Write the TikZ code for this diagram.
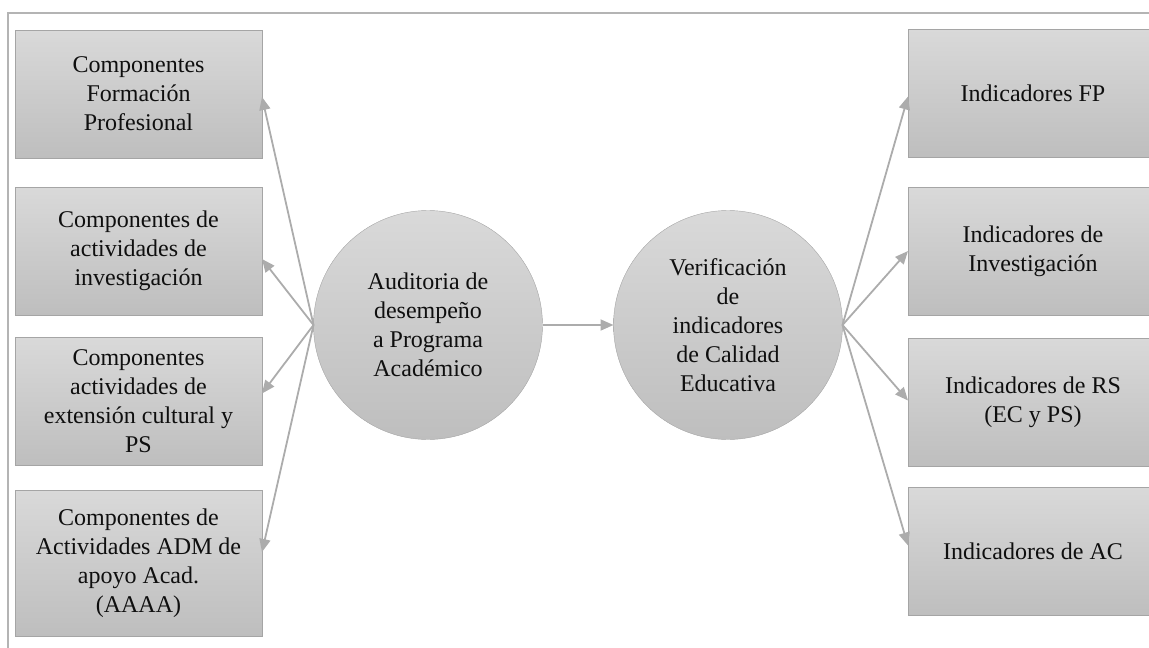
\documentclass[tikz,border=0pt]{standalone}
\usepackage{fontspec}
\setmainfont{Liberation Serif}
\usetikzlibrary{arrows.meta}

\definecolor{boxtop}{RGB}{217,217,217}
\definecolor{boxbot}{RGB}{190,190,190}
\definecolor{boxline}{RGB}{165,165,165}
\definecolor{arrowgray}{RGB}{172,172,172}
\definecolor{framegray}{RGB}{180,180,180}
\definecolor{textgray}{RGB}{15,15,15}

\begin{document}
\begin{tikzpicture}[x=1pt,y=-1pt,
    box/.style={draw=boxline, top color=boxtop, bottom color=boxbot,
      minimum width=247pt, minimum height=128pt, inner sep=0pt, outer sep=0pt,
      align=center, text=textgray, font=\fontsize{24}{29}\selectfont},
    indbox/.style={box, minimum width=270pt, text width=250pt,
      text depth=0pt},
    proc/.style={circle, draw=boxline, top color=boxtop, bottom color=boxbot,
      minimum size=229pt, inner sep=0pt, outer sep=0pt,
      align=center, text=textgray, font=\fontsize{24}{29}\selectfont},
    conn/.style={draw=arrowgray, line width=1.8pt,
      -{Triangle[length=13pt,width=11pt]}}]
    \useasboundingbox (0,0) rectangle (1149,648);
    % frame
    \draw[framegray, line width=2.5pt] (8,648) -- (8,13) -- (1149,13);

    % left column
    \node[box] (cFP)  at (138.5,94)  {Componentes\\Formación\\Profesional};
    \node[box] (cInv) at (138.5,251) {Componentes de\\actividades de\\investigación};
    \node[box] (cExt) at (138.5,401.5) {Componentes\\actividades de\\extensión cultural y\\PS};
    \node[box, minimum height=146pt] (cAdm) at (138.5,563)
        {Componentes de\\Actividades ADM de\\apoyo Acad.\\(AAAA)};

    % centre
    \node[proc] (aud) at (428,325) {Auditoria de\\desempeño\\a Programa\\Académico};
    \node[proc] (ver) at (728,325) {Verificación\\de\\indicadores\\de Calidad\\Educativa};

    % right column (cut by the page edge)
    \node[box, minimum width=270pt] (iFP)  at (1043,93.5)  {\hspace*{-20pt}Indicadores FP};
    \node[box, minimum width=270pt] (iInv) at (1043,251)   {\hspace*{-20pt}Indicadores de\\\hspace*{-20pt}Investigación};
    \node[box, minimum width=270pt] (iRS)  at (1043,402.5) {\hspace*{-20pt}Indicadores de RS\\\hspace*{-20pt}(EC y PS)};
    \node[box, minimum width=270pt] (iAC)  at (1043,551.5) {\hspace*{-20pt}Indicadores de AC};

    % connectors
    \draw[conn] (aud.west) -- ([yshift=-3pt]cFP.east);
    \draw[conn] (aud.west) -- ([yshift=-8pt]cInv.east);
    \draw[conn] (aud.west) -- ([yshift=8pt]cExt.east);
    \draw[conn] (aud.west) -- ([yshift=11pt]cAdm.east);
    \draw[conn] (aud.east) -- (ver.west);
    \draw[conn] (ver.east) -- ([yshift=-3pt]iFP.west);
    \draw[conn] (ver.east) -- (iInv.west);
    \draw[conn] (ver.east) -- ([yshift=2pt]iRS.west);
    \draw[conn] (ver.east) -- ([yshift=6pt]iAC.west);
\end{tikzpicture}
\end{document}
